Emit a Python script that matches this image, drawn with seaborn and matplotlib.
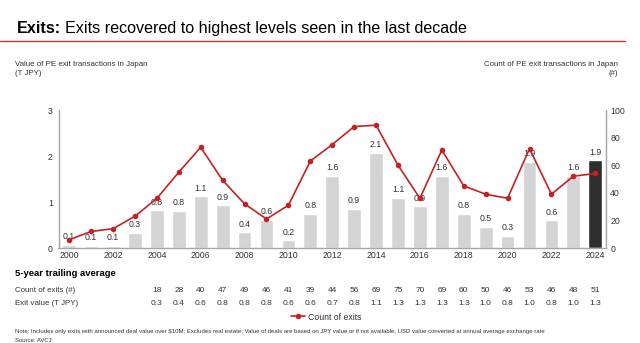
import matplotlib
matplotlib.use("Agg")
import matplotlib.pyplot as plt
import matplotlib.transforms as mtransforms
from matplotlib.lines import Line2D
import numpy as np
import pandas as pd
import seaborn as sns

# ---------------- data ----------------
years = list(range(2000, 2025))
exit_value = [0.07, 0.05, 0.05, 0.33, 0.82, 0.81, 1.13, 0.93, 0.34, 0.61, 0.17, 0.75,
              1.57, 0.85, 2.07, 1.09, 0.91, 1.57, 0.74, 0.46, 0.27, 1.88, 0.60, 1.57, 1.91]
value_labels = ["0.1", "0.1", "0.1", "0.3", "0.8", "0.8", "1.1", "0.9", "0.4", "0.6", "0.2", "0.8",
                "1.6", "0.9", "2.1", "1.1", "0.9", "1.6", "0.8", "0.5", "0.3", "1.9", "0.6", "1.6", "1.9"]
exit_count = [6, 12, 14, 23, 36, 55, 73, 49, 32, 21, 31, 63,
              75, 88, 89, 60, 36, 71, 45, 39, 36, 72, 39, 52, 54]
avg_years = list(range(2004, 2025))
avg_count = [18, 28, 40, 47, 49, 46, 41, 39, 44, 56, 69, 75, 70, 69, 60, 50, 46, 53, 46, 48, 51]
avg_value = [0.3, 0.4, 0.6, 0.8, 0.8, 0.8, 0.6, 0.6, 0.7, 0.8, 1.1, 1.3, 1.3, 1.3, 1.3, 1.0,
             0.8, 1.0, 0.8, 1.0, 1.3]
xtick_years = years[::2]

# ---------------- style ----------------
sns.set_theme(style="white")
plt.rcParams["font.family"] = ["Liberation Sans", "DejaVu Sans"]
TXT = "#333333"
GRAY_BAR = "#d4d4d4"
DARK_BAR = "#2e2e2e"
RED = "#c42222"
SPINE = "#a6a6a6"

W, H = 640, 343
fig = plt.figure(figsize=(W / 100, H / 100), dpi=100)
ax = fig.add_axes([58.5 / W, 1 - 248 / H, (606 - 58.5) / W, (248 - 110) / H])

df = pd.DataFrame({"year": [str(y) for y in years], "value": exit_value, "count": exit_count})
palette = {str(y): (DARK_BAR if y == 2024 else GRAY_BAR) for y in years}
sns.barplot(data=df, x="year", y="value", hue="year", palette=palette, legend=False,
            width=0.63, saturation=1, ax=ax)

for i, (v, lab) in enumerate(zip(exit_value, value_labels)):
    ax.annotate(lab, (i, v), xytext=(0, 2.5), textcoords="offset points",
                ha="center", va="bottom", fontsize=6.3, color=TXT)

ax.set_ylim(0, 3)
ax.set_yticks([0, 1, 2, 3])
ax.set_xticks([years.index(y) for y in xtick_years])
ax.set_xticklabels([str(y) for y in xtick_years])
ax.set_xlabel("")
ax.set_ylabel("")

ax2 = ax.twinx()
sns.lineplot(x=np.arange(len(years)), y=exit_count, ax=ax2, color=RED, marker="o",
             markersize=4, markeredgewidth=0, linewidth=1.2, label="Count of exits")
ax2.set_ylim(0, 100)
ax2.set_yticks([0, 20, 40, 60, 80, 100])
ax2.set_ylabel("")
handles, labels = ax2.get_legend_handles_labels()
if ax2.get_legend() is not None:
    ax2.get_legend().remove()
ax.set_xlim(-0.49, 24.49)

for a in (ax, ax2):
    for s in a.spines.values():
        s.set_visible(False)
    a.tick_params(length=0, labelsize=6.3, labelcolor=TXT)
    a.grid(False)
ax.spines["left"].set_visible(True)
ax.spines["bottom"].set_visible(True)
ax2.spines["right"].set_visible(True)
for s in (ax.spines["left"], ax.spines["bottom"], ax2.spines["right"]):
    s.set_color(SPINE)
    s.set_linewidth(1.0)
ax.tick_params(axis="y", pad=4)
ax.tick_params(axis="x", pad=2.5)
ax2.tick_params(axis="y", pad=3)

# legend
fig.legend(handles, labels, loc="center", bbox_to_anchor=(326 / W, 1 - 317 / H),
           frameon=False, fontsize=6.3, handlelength=1.6, handletextpad=0.3,
           labelcolor=TXT)

# ---------------- title ----------------
t1 = fig.text(17 / W, 1 - 33 / H, "Exits:", fontsize=11.6, fontweight="bold",
              color="black", va="baseline")
fig.canvas.draw()
bb = t1.get_window_extent()
fig.text(bb.x1 / W + 3.5 / W, 1 - 33 / H, "Exits recovered to highest levels seen in the last decade",
         fontsize=11.6, color="black", va="baseline")
fig.add_artist(Line2D([0, 625 / W], [1 - 40.7 / H] * 2, color="#c0392b", lw=1.0))

# axis captions
fig.text(15 / W, 1 - 69 / H, "Value of PE exit transactions in Japan\n(T JPY)",
         fontsize=5.7, color=TXT, va="center", ha="left", linespacing=1.3)
fig.text(618 / W, 1 - 69 / H, "Count of PE exit transactions in Japan\n(#)",
         fontsize=5.7, color=TXT, va="center", ha="right", linespacing=1.3,
         multialignment="right")

# ---------------- table ----------------
fig.text(15 / W, 1 - 274 / H, "5-year trailing average", fontsize=6.8, fontweight="bold",
         color="black", va="center")
fig.text(15 / W, 1 - 290.7 / H, "Count of exits (#)", fontsize=5.7, color=TXT, va="center")
fig.text(15 / W, 1 - 303.3 / H, "Exit value (T JPY)", fontsize=5.7, color=TXT, va="center")
blend = mtransforms.blended_transform_factory(ax.transData, fig.transFigure)
for y, c, v in zip(avg_years, avg_count, avg_value):
    xi = years.index(y)
    fig.text(xi, 1 - 290.7 / H, f"{c}", transform=blend, fontsize=6.0, color=TXT,
             ha="center", va="center")
    fig.text(xi, 1 - 303.3 / H, f"{v:.1f}", transform=blend, fontsize=6.0, color=TXT,
             ha="center", va="center")

# notes
fig.text(15 / W, 1 - 331.5 / H,
         "Note: Includes only exits with announced deal value over $10M; Excludes real estate; "
         "Value of deals are based on JPY value or if not available, USD value converted at "
         "annual average exchange rate",
         fontsize=4.3, color=TXT, va="center")
fig.text(15 / W, 1 - 340 / H, "Source: AVCJ", fontsize=4.3, color=TXT, va="center")

fig.savefig("out.png", dpi=100)
